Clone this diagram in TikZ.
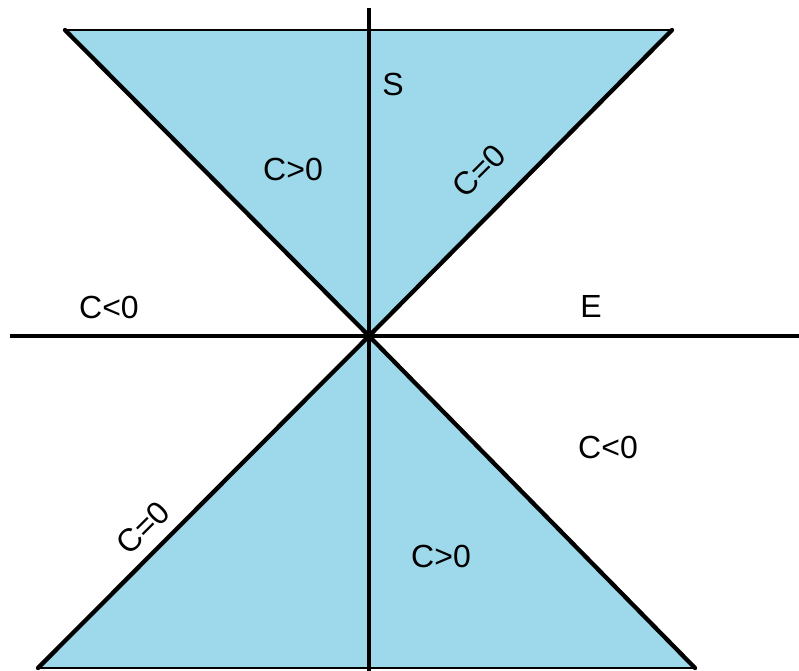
\documentclass[tikz,border=0pt]{standalone}
\usepackage{fontspec}
\setmainfont{Liberation Sans}
\definecolor{coneblue}{RGB}{157,217,234}
\begin{document}
\begin{tikzpicture}[x=1pt,y=-1pt,
  thickline/.style={line width=4.3pt},
  thinline/.style={line width=1.5pt},
  lbl/.style={font=\fontsize{32}{35}\selectfont, inner sep=0pt}]
\useasboundingbox (0,0) rectangle (799,670);
\coordinate (O) at (369,336);
\coordinate (TL) at (65,30);
\coordinate (TR) at (672,30);
\coordinate (BL) at (38,668);
\coordinate (BR) at (695,668);
\coordinate (Vt) at (369,8);
\coordinate (Vb) at (369,672);
\coordinate (Hl) at (10,336);
\coordinate (Hr) at (801,336);
\fill[coneblue] (TL) -- (TR) -- (O) -- cycle;
\fill[coneblue] (BL) -- (BR) -- (O) -- cycle;
\draw[thinline] (TL) -- (TR);
\draw[thinline] (BL) -- (BR);
\draw[thickline] (Vt) -- (Vb);
\draw[thickline] (Hl) -- (Hr);
\draw[thickline, line cap=round] (TL) -- (O) -- (BR);
\draw[thickline, line cap=round] (TR) -- (O) -- (BL);
\node[lbl] (s) at (393,84) {S};
\node[lbl] (cgt1) at (293,169) {C>0};
\node[lbl, rotate=45] (ceq1) at (479,171) {C=0};
\node[lbl] (clt1) at (109,307) {C<0};
\node[lbl] (e) at (591,306) {E};
\node[lbl] (clt2) at (608,447) {C<0};
\node[lbl, rotate=45] (ceq2) at (143,528) {C=0};
\node[lbl] (cgt2) at (441,556) {C>0};
\end{tikzpicture}
\end{document}
